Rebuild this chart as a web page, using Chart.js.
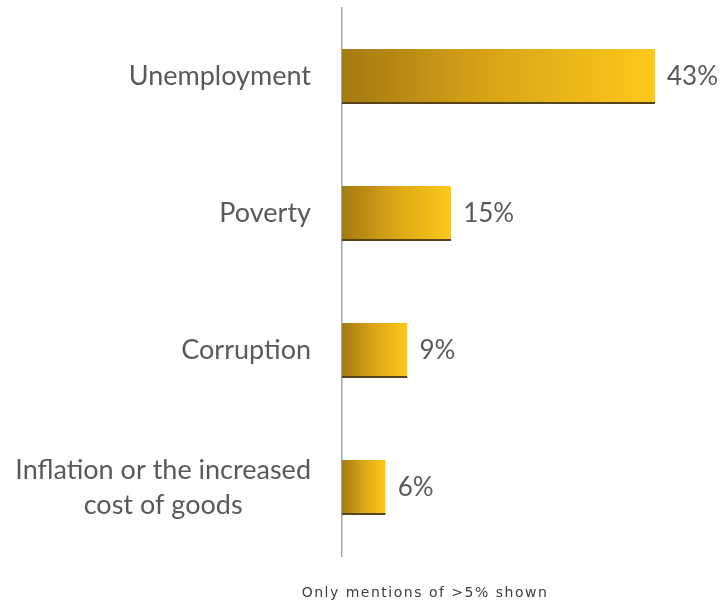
<!DOCTYPE html>
<html>
<head>
<meta charset="utf-8">
<script src="https://cdn.jsdelivr.net/npm/chart.js@4"></script>
<style>
  html, body { margin: 0; padding: 0; background: #ffffff; }
  #wrap { width: 722px; height: 608px; }
</style>
</head>
<body>
<div id="wrap"><canvas id="chart" width="722" height="608"></canvas></div>
<script>
// Most important problems mentioned (share of respondents, %)
const categories = [
  ["Unemployment"],
  ["Poverty"],
  ["Corruption"],
  ["Inflation or the increased", "cost of goods"]
];
const shares = [43, 15, 9, 6];
const footnote = "Only mentions of >5% shown";

const CATEGORY_FONT = "27px Lato, 'Open Sans', sans-serif";
const VALUE_FONT = "26px Lato, 'Open Sans', sans-serif";
const TEXT_COLOR = "#595959";

// Each bar gets its own dark-to-bright golden gradient along its length
function barGradient(ctx) {
  const chart = ctx.chart;
  if (!chart.chartArea || ctx.type !== "data") return "#e0a816";
  const x = chart.scales.x;
  const x0 = x.getPixelForValue(0);
  const x1 = x.getPixelForValue(ctx.raw);
  const g = chart.ctx.createLinearGradient(x0, 0, x1, 0);
  g.addColorStop(0, "#a47a12");
  g.addColorStop(0.5, "#dca616");
  g.addColorStop(1, "#fdc91b");
  return g;
}

// Category names, each line centred within the right-aligned label block
const categoryLabels = {
  id: "categoryLabels",
  afterDraw(chart) {
    const { ctx, chartArea } = chart;
    const y = chart.scales.y;
    const right = chartArea.left - 31;
    const lineH = 35;
    ctx.save();
    ctx.font = CATEGORY_FONT;
    ctx.fillStyle = TEXT_COLOR;
    ctx.textBaseline = "middle";
    ctx.textAlign = "center";
    categories.forEach((lines, i) => {
      const cy = y.getPixelForValue(i);
      const w = Math.max(...lines.map(l => ctx.measureText(l).width));
      const cx = right - w / 2;
      const top = cy - (lines.length - 1) * lineH / 2;
      lines.forEach((l, k) => ctx.fillText(l, cx, top + k * lineH));
    });
    ctx.restore();
  }
};

// Value labels placed just past the end of each bar
const valueLabels = {
  id: "valueLabels",
  afterDatasetsDraw(chart) {
    const { ctx } = chart;
    const meta = chart.getDatasetMeta(0);
    ctx.save();
    ctx.font = VALUE_FONT;
    ctx.fillStyle = TEXT_COLOR;
    ctx.textBaseline = "middle";
    ctx.textAlign = "left";
    meta.data.forEach((bar, i) => {
      ctx.fillText(shares[i] + "%", bar.x + 12, bar.y);
    });
    ctx.restore();
  }
};

// Footnote under the chart
const footnotePlugin = {
  id: "footnote",
  afterDraw(chart) {
    const { ctx, chartArea } = chart;
    ctx.save();
    ctx.font = "14px 'DejaVu Sans', sans-serif";
    ctx.letterSpacing = "1.5px";
    ctx.fillStyle = "#404040";
    ctx.textAlign = "center";
    ctx.textBaseline = "middle";
    ctx.fillText(footnote, chartArea.left + 83, chartArea.bottom + 37);
    ctx.restore();
  }
};

new Chart(document.getElementById("chart"), {
  type: "bar",
  data: {
    labels: categories.map(c => c.join(" ")),
    datasets: [{
      data: shares,
      backgroundColor: barGradient,
      borderColor: "#55431a",
      borderWidth: { top: 0, right: 0, bottom: 2, left: 0 },
      borderSkipped: false,
      barPercentage: 0.8,
      categoryPercentage: 0.5
    }]
  },
  options: {
    indexAxis: "y",
    responsive: false,
    animation: false,
    layout: { padding: { top: 8, right: 16, bottom: 52, left: 0 } },
    plugins: {
      legend: { display: false },
      tooltip: { enabled: false }
    },
    scales: {
      x: {
        display: false,
        min: 0,
        max: 50
      },
      y: {
        grid: { display: false },
        ticks: { display: false },
        border: { display: true, color: "#a6a6a6", width: 1.5 },
        afterFit(scale) { scale.width = 342; }
      }
    }
  },
  plugins: [categoryLabels, valueLabels, footnotePlugin]
});
</script>
</body>
</html>
